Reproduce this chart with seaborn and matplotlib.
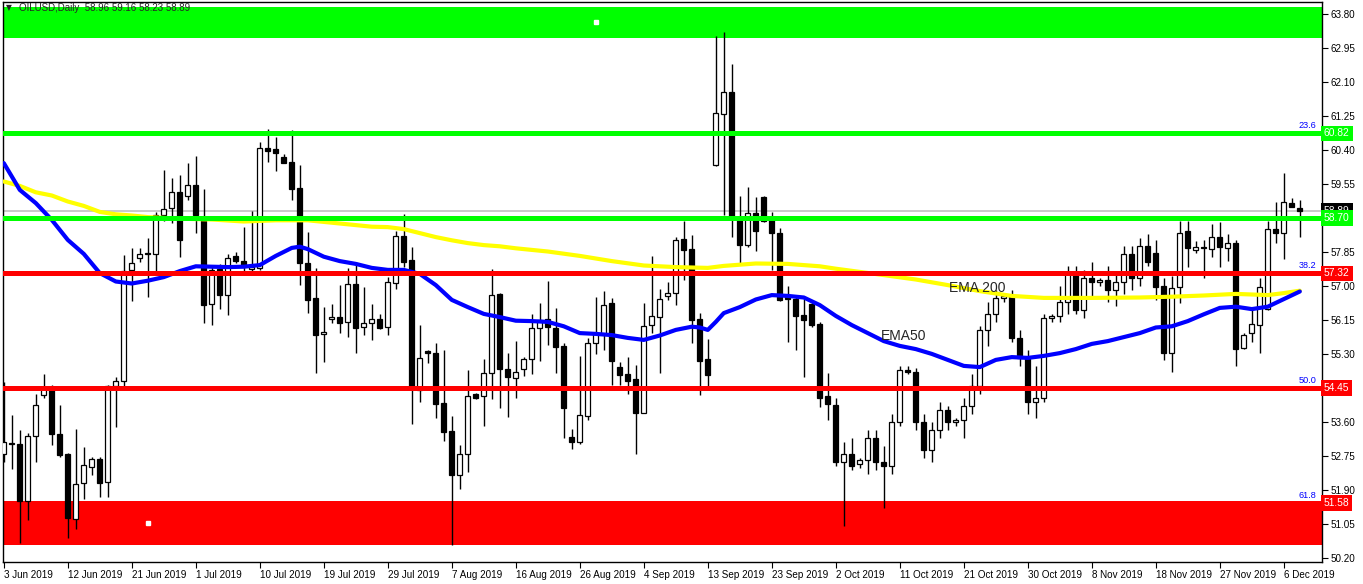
import numpy as np
import pandas as pd
import matplotlib
matplotlib.use("Agg")
import matplotlib.pyplot as plt
import seaborn as sns

# OILUSD daily bars (broker feed has Sunday bars)
OPEN = [52.81, 53.08, 53.06, 51.63, 53.26, 54.27, 54.43, 53.31, 52.81, 51.19,
        52.07, 52.49, 52.67, 52.10, 54.51, 54.63, 57.40, 57.70, 57.83, 57.80,
        58.77, 58.95, 59.35, 59.25, 59.53, 58.70, 56.55, 57.42, 56.77, 57.76,
        57.63, 57.42, 57.45, 60.45, 60.43, 60.22, 60.10, 59.45, 57.57, 56.70,
        55.80, 56.17, 56.23, 56.10, 57.05, 55.97, 56.07, 56.19, 55.99, 57.09,
        58.26, 57.66, 54.40, 55.38, 55.32, 54.07, 53.38, 52.29, 52.81, 54.30,
        54.26, 54.83, 56.81, 54.94, 54.70, 54.92, 55.17, 55.95, 56.17, 55.95,
        55.51, 53.22, 53.11, 53.76, 55.58, 55.80, 56.57, 54.97, 54.80, 54.67,
        53.83, 56.02, 56.23, 56.76, 56.84, 58.19, 57.94, 56.18, 55.18, 60.02,
        61.30, 61.86, 58.66, 58.02, 58.82, 59.22, 58.66, 58.34, 56.78, 56.69,
        56.28, 56.56, 56.06, 54.26, 54.03, 52.60, 52.80, 52.55, 52.65, 53.20,
        52.60, 52.50, 53.60, 54.90, 54.85, 53.60, 52.90, 53.40, 53.90, 53.60,
        53.65, 54.00, 54.50, 55.90, 56.30, 56.70, 56.75, 55.70, 55.20, 54.10,
        54.20, 56.20, 56.25, 56.60, 57.30, 56.40, 57.20, 57.10, 57.15, 56.90,
        57.10, 57.80, 57.20, 58.00, 57.82, 57.01, 55.34, 56.97, 58.37, 57.91,
        57.99, 57.93, 58.24, 57.95, 58.08, 55.45, 55.83, 56.03, 56.42, 58.42,
        58.34, 59.09, 58.96]
HIGH = [54.60, 53.78, 53.41, 53.34, 54.30, 54.81, 54.53, 54.03, 52.84, 53.43,
        52.98, 52.73, 52.73, 54.53, 54.72, 57.78, 57.95, 57.95, 58.20, 58.85,
        59.91, 59.70, 59.78, 60.07, 60.26, 59.43, 57.50, 57.56, 57.80, 57.86,
        58.47, 58.88, 60.60, 60.93, 60.72, 60.31, 60.91, 60.02, 58.35, 57.45,
        56.47, 56.56, 57.03, 57.45, 57.61, 56.97, 56.56, 56.30, 57.22, 58.38,
        58.81, 57.97, 56.03, 55.40, 55.59, 55.41, 53.76, 53.04, 54.91, 54.33,
        55.18, 57.44, 56.83, 55.32, 55.63, 55.22, 56.31, 56.57, 57.13, 56.45,
        55.59, 53.43, 55.26, 55.71, 56.73, 56.88, 56.70, 55.11, 55.22, 55.03,
        56.57, 57.76, 56.92, 57.11, 58.22, 58.64, 58.28, 56.33, 55.69, 63.26,
        63.35, 62.56, 59.26, 59.47, 59.22, 59.25, 58.85, 58.46, 57.00, 56.78,
        56.69, 56.64, 56.11, 54.82, 54.20, 53.10, 53.20, 52.70, 53.40, 53.40,
        53.00, 53.80, 55.00, 55.00, 54.95, 53.80, 53.60, 54.10, 54.00, 53.70,
        54.20, 54.80, 56.00, 56.60, 56.90, 56.80, 56.90, 55.90, 55.40, 55.00,
        56.30, 56.30, 57.00, 57.50, 57.50, 57.40, 57.60, 57.20, 57.50, 57.30,
        58.00, 58.00, 58.20, 58.30, 58.16, 57.21, 57.26, 58.63, 58.63, 58.13,
        58.16, 58.55, 58.61, 58.31, 58.16, 55.84, 56.49, 57.20, 58.63, 59.10,
        59.83, 59.20, 59.16]
LOW = [52.60, 52.43, 50.59, 51.16, 52.61, 54.21, 53.03, 52.74, 50.71, 50.93,
       51.69, 52.27, 51.74, 51.72, 53.49, 54.51, 56.64, 57.60, 56.73, 57.39,
       58.62, 58.57, 57.74, 59.15, 58.33, 56.07, 56.02, 56.44, 56.27, 57.59,
       57.39, 57.39, 57.40, 60.11, 59.89, 60.07, 59.16, 57.04, 56.34, 54.84,
       55.11, 56.08, 55.82, 55.72, 55.32, 55.78, 55.66, 55.93, 55.78, 56.94,
       57.49, 53.56, 54.10, 55.09, 53.71, 53.13, 50.52, 51.93, 52.36, 54.18,
       53.51, 54.18, 53.96, 53.74, 54.21, 54.76, 54.81, 55.13, 55.53, 54.84,
       53.21, 52.93, 53.06, 53.66, 55.31, 55.41, 54.53, 54.53, 54.30, 52.81,
       53.82, 55.83, 54.82, 56.65, 56.53, 57.16, 55.58, 54.27, 54.49, 60.00,
       58.77, 58.24, 57.57, 57.99, 57.89, 58.60, 57.41, 56.64, 55.61, 55.41,
       54.74, 55.99, 53.97, 53.66, 52.50, 51.00, 52.40, 52.45, 52.30, 52.40,
       51.45, 52.30, 53.50, 54.80, 53.40, 52.70, 52.60, 53.20, 53.40, 53.50,
       53.20, 53.80, 54.30, 55.50, 56.10, 56.60, 55.60, 55.00, 53.80, 53.70,
       54.10, 56.10, 56.10, 56.30, 56.30, 56.20, 56.70, 57.00, 56.60, 56.50,
       56.80, 56.90, 57.00, 57.50, 56.66, 55.16, 54.85, 56.59, 57.49, 57.82,
       57.20, 57.74, 57.49, 57.62, 55.01, 55.43, 55.61, 55.34, 56.41, 58.09,
       57.68, 58.97, 58.23]
CLOSE = [53.10, 53.05, 51.63, 53.26, 54.03, 54.43, 53.31, 52.79, 51.21, 52.05,
         52.53, 52.67, 52.09, 54.51, 54.63, 57.39, 57.57, 57.80, 57.80, 58.77,
         58.92, 59.35, 58.15, 59.53, 58.78, 56.52, 57.41, 56.77, 57.70, 57.63,
         57.52, 57.49, 60.45, 60.39, 60.34, 60.09, 59.42, 57.59, 56.66, 55.79,
         55.85, 56.23, 56.09, 57.05, 55.96, 56.07, 56.17, 55.96, 57.10, 58.26,
         57.61, 54.45, 55.20, 55.32, 54.05, 53.36, 52.27, 52.81, 54.26, 54.21,
         54.84, 56.78, 54.94, 54.72, 54.86, 55.18, 55.95, 56.16, 55.97, 55.49,
         53.95, 53.10, 53.78, 55.59, 55.80, 56.54, 55.13, 54.79, 54.64, 53.83,
         56.01, 56.26, 56.67, 56.84, 58.16, 57.91, 56.16, 55.13, 54.78, 61.32,
         61.85, 58.74, 58.02, 58.82, 58.37, 58.62, 58.34, 56.65, 56.69, 56.26,
         56.16, 56.03, 54.21, 54.05, 52.60, 52.80, 52.50, 52.65, 53.20, 52.60,
         52.50, 53.60, 54.90, 54.85, 53.60, 52.90, 53.40, 53.90, 53.60, 53.65,
         54.00, 54.50, 55.90, 56.30, 56.70, 56.75, 55.70, 55.20, 54.10, 54.20,
         56.20, 56.25, 56.60, 57.30, 56.40, 57.20, 57.10, 57.15, 56.90, 57.10,
         57.80, 57.20, 58.00, 57.60, 56.99, 55.34, 56.95, 58.34, 57.95, 57.99,
         57.95, 58.24, 57.98, 58.08, 55.43, 55.78, 56.05, 56.99, 58.42, 58.34,
         59.10, 58.97, 58.89]

# moving averages, sampled every couple of bars
EMA50_BAR = [0, 2, 4, 6, 8, 10, 12, 14, 16, 18, 20, 22, 24, 26, 28, 30, 32, 34,
             36, 37, 38, 40, 42, 44, 46, 48, 50, 52, 54, 56, 58, 60, 62, 64, 66,
             68, 70, 72, 74, 76, 78, 80, 82, 84, 86, 87, 88, 89, 90, 92, 94, 96,
             98, 100, 102, 104, 106, 108, 110, 112, 114, 116, 118, 120, 122,
             124, 126, 128, 130, 132, 134, 136, 138, 140, 142, 144, 146, 148,
             150, 152, 154, 156, 158, 160, 162]
EMA50_VAL = [60.08, 59.41, 59.08, 58.66, 58.16, 57.81, 57.33, 57.12, 57.07,
             57.14, 57.23, 57.38, 57.50, 57.49, 57.48, 57.49, 57.53, 57.76,
             57.96, 57.99, 57.93, 57.74, 57.63, 57.56, 57.46, 57.41, 57.41,
             57.31, 57.03, 56.66, 56.48, 56.31, 56.23, 56.14, 56.13, 56.11,
             56.00, 55.83, 55.81, 55.78, 55.71, 55.66, 55.77, 55.91, 55.99,
             55.97, 55.91, 56.11, 56.33, 56.48, 56.67, 56.78, 56.76, 56.72,
             56.53, 56.26, 56.03, 55.83, 55.63, 55.51, 55.43, 55.31, 55.16,
             55.01, 54.98, 55.16, 55.23, 55.21, 55.26, 55.33, 55.43, 55.56,
             55.63, 55.73, 55.83, 55.97, 56.00, 56.13, 56.30, 56.46, 56.49,
             56.43, 56.49, 56.68, 56.87]
EMA200_BAR = [0, 2, 4, 6, 8, 10, 12, 14, 16, 18, 22, 26, 30, 34, 38, 42, 46,
              48, 50, 52, 54, 56, 58, 60, 62, 64, 68, 72, 76, 80, 84, 88, 90,
              94, 98, 102, 104, 110, 114, 118, 122, 126, 130, 136, 142, 146,
              150, 154, 158, 160, 162]
EMA200_VAL = [59.62, 59.51, 59.35, 59.27, 59.12, 59.01, 58.86, 58.80, 58.77,
              58.73, 58.69, 58.67, 58.62, 58.65, 58.65, 58.57, 58.49, 58.48,
              58.43, 58.33, 58.23, 58.15, 58.08, 58.03, 58.00, 57.95, 57.87,
              57.76, 57.63, 57.52, 57.48, 57.46, 57.51, 57.57, 57.56, 57.50,
              57.44, 57.28, 57.17, 57.03, 56.88, 56.76, 56.71, 56.71, 56.72,
              56.74, 56.77, 56.81, 56.78, 56.83, 56.89]

DATE_LABELS = ["3 Jun 2019", "12 Jun 2019", "21 Jun 2019", "1 Jul 2019",
               "10 Jul 2019", "19 Jul 2019", "29 Jul 2019", "7 Aug 2019",
               "16 Aug 2019", "26 Aug 2019", "4 Sep 2019", "13 Sep 2019",
               "23 Sep 2019", "2 Oct 2019", "11 Oct 2019", "21 Oct 2019",
               "30 Oct 2019", "8 Nov 2019", "18 Nov 2019", "27 Nov 2019",
               "6 Dec 2019"]

# horizontal levels: price, colour, fibo tag
LEVEL_PRICE = [60.82, 58.70, 57.32, 54.45, 51.58]
LEVEL_COLOR = ["#00ff00", "#00ff00", "#ff0000", "#ff0000", "#ff0000"]
LEVEL_FIBO = ["23.6", "", "38.2", "50.0", "61.8"]
LEVEL_LINE = [True, True, True, True, False]

# supply / demand zones: bottom, top, colour, anchor bar
ZONE_BOTTOM = [63.21, 50.53]
ZONE_TOP = [63.99, 51.63]
ZONE_COLOR = ["#00ff00", "#ff0000"]
ZONE_ANCHOR = [74, 18]

BID = 58.89
HEADER = "OILUSD,Daily  58.96 59.16 58.23 58.89"

W, H = 1363, 584
L, R, T, B = 3, 1322, 2, 562
BAR_PX = 8
FONT = ["Liberation Sans", "DejaVu Sans"]

sns.set_style("white")
plt.rcParams["font.family"] = FONT

fig = plt.figure(figsize=(W / 100, H / 100), dpi=100)
ax = fig.add_axes([L / W, 1 - B / H, (R - L) / W, (B - T) / H])

df = pd.DataFrame({"o": OPEN, "h": HIGH, "l": LOW, "c": CLOSE})
df["bar"] = np.arange(len(df))
df["bull"] = df["c"] >= df["o"]
df["lo"] = df[["o", "c"]].min(axis=1)
df["body"] = (df["c"] - df["o"]).abs().clip(lower=0.02)

# zones in the background
for b, t, col, anc in zip(ZONE_BOTTOM, ZONE_TOP, ZONE_COLOR, ZONE_ANCHOR):
    ax.axhspan(b, t, color=col, lw=0, zorder=1)
    ax.plot([anc], [(b + t) / 2], marker="s", ms=2.2, color="white",
            mec="white", zorder=2)

ax.axhline(BID, color="#c0c0c0", lw=1.2, zorder=1.5)

# candles
ax.vlines(df["bar"], df["l"], df["h"], color="black", lw=1.0, zorder=3)
ax.bar(df["bar"], df["body"], bottom=df["lo"], width=0.58,
       color=np.where(df["bull"], "white", "black"), edgecolor="black",
       linewidth=0.9, zorder=4)

# EMAs
sns.lineplot(x=EMA200_BAR, y=EMA200_VAL, color="#ffff00", lw=3.0, ax=ax,
             zorder=5)
sns.lineplot(x=EMA50_BAR, y=EMA50_VAL, color="#0000ff", lw=3.0, ax=ax,
             zorder=5)

for p, col, fib, line in zip(LEVEL_PRICE, LEVEL_COLOR, LEVEL_FIBO, LEVEL_LINE):
    if line:
        ax.axhline(p, color=col, lw=3.6, zorder=6)
    if fib:
        ax.text(0.996, p + 0.08, fib, transform=ax.get_yaxis_transform(),
                ha="right", va="bottom", color="#0000ff", fontsize=6.6,
                zorder=7)

ax.annotate("EMA 200", xy=(118.2, 56.95), fontsize=10, va="center", zorder=8)
ax.annotate("EMA50", xy=(109.6, 55.76), fontsize=10, va="center", zorder=8)

# scales
ax.set_xlim(-0.1, -0.1 + (R - L) / BAR_PX)
ax.set_ylim(63.80 - (B - 14.3) / 40, 63.80 + (14.3 - T) / 40)

yt = [round(50.20 + 0.85 * k, 2) for k in range(17)]
ax.yaxis.tick_right()
ax.set_yticks(yt)
# scale labels that sit under a price tag are hidden anyway
ax.set_yticklabels(["" if v in LEVEL_PRICE else f"{v:.2f}" for v in yt])
ax.set_xticks(np.arange(0, 8 * len(DATE_LABELS), 8))
ax.set_xticklabels(DATE_LABELS, ha="left")
ax.tick_params(axis="both", direction="out", length=4, width=0.8,
               labelsize=7.1, colors="black", pad=2)
ax.tick_params(axis="y", right=True, left=False)
ax.tick_params(axis="x", bottom=True)
for s in ax.spines.values():
    s.set_color("black")
    s.set_linewidth(1.0)
ax.set_xlabel("")
ax.set_ylabel("")
ax.grid(False)

# price tags on the right scale (58.89 sits under the 58.70 tag)
tag_tr = ax.get_yaxis_transform()
ax.text(1.0015, BID, f"{BID:.2f}", transform=tag_tr, ha="left", va="center",
        fontsize=7.4, color="white", zorder=9, clip_on=False,
        bbox=dict(boxstyle="square,pad=0.28", fc="black", ec="none"))
for p, col in zip(LEVEL_PRICE, LEVEL_COLOR):
    ax.text(1.0015, p, f"{p:.2f}", transform=tag_tr, ha="left", va="center",
            fontsize=7.4, color="white", zorder=10, clip_on=False,
            bbox=dict(boxstyle="square,pad=0.28", fc=col, ec="none"))

fig.text(6 / W, 1 - 8 / H, "\u25bc", fontsize=5.5, va="center", ha="left",
         family="DejaVu Sans")
fig.text(19 / W, 1 - 8 / H, HEADER, fontsize=7, va="center", ha="left")

fig.savefig("out.png", dpi=100, facecolor="white")
